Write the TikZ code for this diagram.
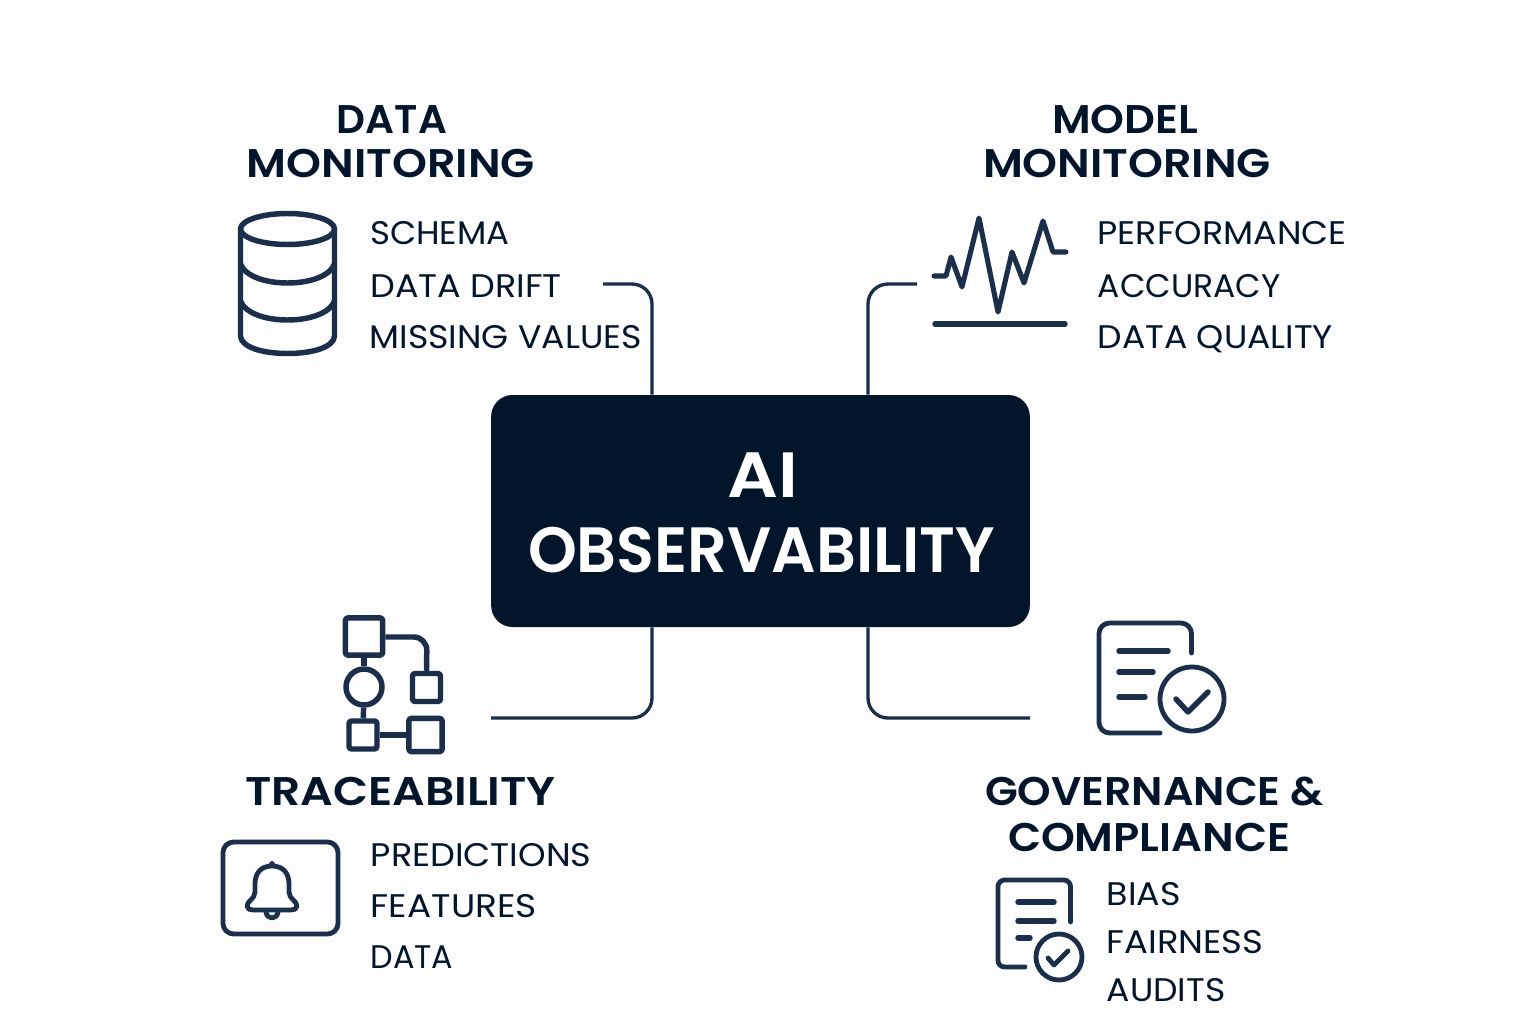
\documentclass[tikz,border=0pt]{standalone}
\usepackage{fontspec}
\usepackage{graphicx}
\setmainfont{Poppins}
\newfontfamily\semifont{Poppins SemiBold}
\definecolor{ink}{HTML}{1B2F4B}
\definecolor{deep}{HTML}{03152B}
\definecolor{paper}{HTML}{FDFDFD}
\newcommand{\fitw}[2]{\resizebox{#1}{\height}{#2}}
\tikzset{
  px/.style={x=0.75pt,y=-0.75pt},
  item/.style={anchor=base west,inner sep=0pt,text=deep,font=\fontsize{24.5}{28}\selectfont},
  head/.style={anchor=base,inner sep=0pt,text=deep,font=\fontsize{30}{34}\selectfont\semifont},
  conn/.style={draw=ink,line width=2.5pt,rounded corners=15pt},
  icon/.style={draw=ink,line width=4.1pt,line cap=round,line join=round},
  iconthin/.style={draw=ink,line width=3.6pt,line cap=round,line join=round},
  title/.style={anchor=base,inner sep=0pt,text=white,font=\fontsize{48}{52}\selectfont\semifont}
}
\begin{document}
\begin{tikzpicture}[px]
\path[use as bounding box,fill=paper] (0,0) rectangle (1536,1024);
% centre box
\node[draw=none,fill=deep,rounded corners=16pt,minimum width=404pt,minimum height=174pt,inner sep=0pt] (box) at (760.5,511) {};
\node[title] (t1) at (763,497) {\fitw{53pt}{AI}};
\node[title] (t2) at (761.5,572) {\fitw{350pt}{OBSERVABILITY}};
% headings
\node[head] (h1a) at (392,133) {\fitw{82.5pt}{DATA}};
\node[head] (h1b) at (391,177) {\fitw{216pt}{MONITORING}};
\node[head] (h2a) at (1125,133) {\fitw{109.5pt}{MODEL}};
\node[head] (h2b) at (1127,177) {\fitw{216pt}{MONITORING}};
\node[head] (h3) at (400.5,805) {\fitw{233pt}{TRACEABILITY}};
\node[head] (h4a) at (1154.5,805) {\fitw{254pt}{GOVERNANCE \&}};
\node[head] (h4b) at (1149,851) {\fitw{211.5pt}{COMPLIANCE}};
% lists
\node[item] (a1) at (370,244) {\fitw{104.5pt}{SCHEMA}};
\node[item] (a2) at (370,297) {\fitw{143.5pt}{DATA DRIFT}};
\node[item] (a3) at (369.5,348) {\fitw{204pt}{MISSING VALUES}};
\node[item] (b1) at (1097.5,244) {\fitw{186.5pt}{PERFORMANCE}};
\node[item] (b2) at (1097.5,297) {\fitw{137pt}{ACCURACY}};
\node[item] (b3) at (1097.5,348) {\fitw{176.5pt}{DATA QUALITY}};
\node[item] (c1) at (370.5,866) {\fitw{165.5pt}{PREDICTIONS}};
\node[item] (c2) at (370.5,917) {\fitw{124.5pt}{FEATURES}};
\node[item] (c3) at (370.5,968) {\fitw{62pt}{DATA}};
\node[item] (d1) at (1106.5,905) {\fitw{55.5pt}{BIAS}};
\node[item] (d2) at (1106.5,953) {\fitw{117.5pt}{FAIRNESS}};
\node[item] (d3) at (1106.5,1001) {\fitw{89pt}{AUDITS}};
% connectors
\coordinate (e1) at (603,284);
\coordinate (e2) at (917,284);
\coordinate (e3) at (491,718);
\coordinate (e4) at (1030,718);
\coordinate (x1) at (652,0);
\coordinate (x2) at (868,0);
\draw[conn] (x1 |- box.north) -- (x1 |- e1) -- (e1);
\draw[conn] (x2 |- box.north) -- (x2 |- e2) -- (e2);
\draw[conn] (x1 |- box.south) -- (x1 |- e3) -- (e3);
\draw[conn] (x2 |- box.south) -- (x2 |- e4) -- (e4);
% database icon
\draw[icon] (287.5,229) ellipse [x radius=47,y radius=15.5];
\draw[icon] (240.5,229) -- (240.5,336) .. controls (241,347) and (262,353.5) .. (287.5,353.5) .. controls (313,353.5) and (334,347) .. (334.5,336) -- (334.5,229);
\draw[icon] (240.5,264) .. controls (245,276) and (265,283) .. (287.5,283) .. controls (310,283) and (330,276) .. (334.5,264);
\draw[icon] (240.5,301) .. controls (245,313) and (265,320) .. (287.5,320) .. controls (310,320) and (330,313) .. (334.5,301);
% pulse icon
\draw[icon,line width=3.8pt] (934,276) -- (946,276) -- (951,257) -- (962,287) -- (979,218) -- (998,312) -- (1012,252) -- (1024,283) -- (1043,221) -- (1053,252) -- (1066,252);
\draw[icon] (935,324) -- (1065,324);
% flow icon
\node[icon,draw,minimum width=28pt,minimum height=28pt,rounded corners=2pt,inner sep=0pt] (f1) at (364,636.5) {};
\node[icon,draw,circle,minimum size=27pt,inner sep=0pt] (f2) at (364,687) {};
\node[icon,draw,minimum width=21pt,minimum height=21pt,rounded corners=2pt,inner sep=0pt] (f3) at (426.5,687.5) {};
\node[icon,draw,minimum width=21pt,minimum height=21pt,rounded corners=2pt,inner sep=0pt] (f4) at (363,735) {};
\node[icon,draw,minimum width=25pt,minimum height=25pt,rounded corners=2pt,inner sep=0pt] (f5) at (425.5,735) {};
\draw[icon,line cap=butt] (f1) -- (f2);
\draw[icon,line cap=butt] (f2) -- (f4);
\draw[icon,line cap=butt] (f4) -- (f5);
\draw[icon,line cap=butt,rounded corners=10pt] (f1.east |- 0,637) -- (427,637) -- (f3.north);
% bell icon
\draw[iconthin,rounded corners=8pt] (223,842) rectangle (338,934);
\draw[iconthin] (272,866) .. controls (261,866) and (255,873) .. (255,884) -- (255,892) .. controls (255,899) and (247,901) .. (247,906) .. controls (247,909) and (250,910) .. (253,910) -- (291,910) .. controls (294,910) and (297,909) .. (297,906) .. controls (297,901) and (289,899) .. (289,892) -- (289,884) .. controls (289,873) and (283,866) .. (272,866);
\draw[iconthin] (266,912) .. controls (267,920) and (277,920) .. (278,912);
\fill[ink] (272,864) circle (2.2pt);
% document icon large
\draw[iconthin,rounded corners=8pt] (1191.5,653) -- (1191.5,623) -- (1099,623) -- (1099,733) -- (1160,733);
\draw[icon] (1119,651) -- (1168,651);
\draw[icon] (1119,672) -- (1153,672);
\draw[icon] (1119,697) -- (1145,697);
\draw[iconthin] (1192,699) circle [radius=32];
\draw[icon] (1176,699) -- (1188,712) -- (1208,692);
% document icon small
\draw[iconthin,rounded corners=5pt] (1070.5,922) -- (1070.5,880) -- (998,880) -- (998,967) -- (1025,967);
\draw[icon] (1018,902) -- (1054,902);
\draw[icon] (1018,921) -- (1054,921);
\draw[icon] (1018,938) -- (1030,938);
\draw[iconthin] (1059,957) circle [radius=23];
\draw[iconthin] (1048,958) -- (1054,965) -- (1068,951);
\end{tikzpicture}
\end{document}
